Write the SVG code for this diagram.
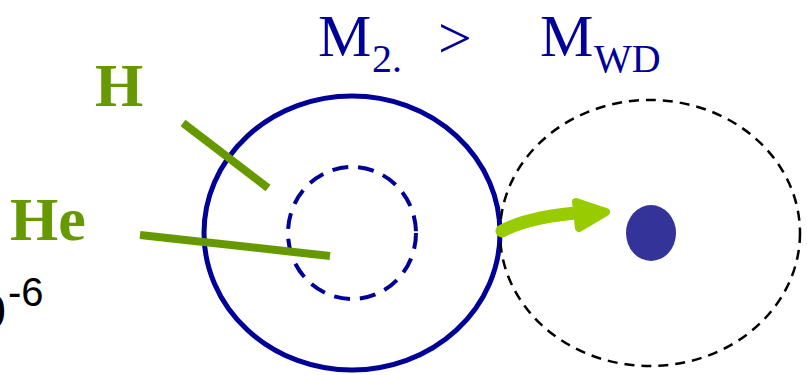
<svg xmlns="http://www.w3.org/2000/svg" width="807" height="375" viewBox="0 0 807 375">
<style>
.lbl{font-family:"Liberation Serif","Times New Roman",serif;fill:#000099}
.el{font-family:"Liberation Serif","Times New Roman",serif;font-weight:bold;fill:#669900;font-size:62px}
.gl{stroke:#669900;stroke-width:8;fill:none}
</style>
<rect width="807" height="375" fill="#fff"/>
<g id="title">
<text class="lbl" x="318" y="56" font-size="60">M</text>
<text class="lbl" x="372" y="72" font-size="40">2.</text>
<text class="lbl" x="438" y="58" font-size="60">&gt;</text>
<text class="lbl" x="540" y="56" font-size="60">M</text>
<text class="lbl" x="594" y="72" font-size="40">WD</text>
</g>
<g id="star">
<ellipse cx="352" cy="233" rx="148" ry="137" fill="none" stroke="#000099" stroke-width="5"/>
<ellipse cx="352" cy="233" rx="64" ry="66" fill="none" stroke="#000099" stroke-width="4" stroke-dasharray="16,10"/>
</g>
<g id="wd-orbit">
<ellipse cx="650" cy="233" rx="150" ry="133" fill="none" stroke="#000" stroke-width="2.5" stroke-dasharray="10,7"/>
</g>
<g id="wd">
<ellipse cx="651" cy="233" rx="25" ry="28" fill="#333399"/>
</g>
<g id="label-H"><text class="el" x="95" y="106">H</text></g>
<g id="label-He"><text class="el" x="10" y="240">He</text></g>
<g id="exp">
<text x="6" y="328" font-family="'Liberation Sans',Arial,sans-serif" font-size="48" text-anchor="end" fill="#000">0</text>
<text x="8" y="306" font-family="'Liberation Sans',Arial,sans-serif" font-size="40" fill="#000">-6</text>
</g>
<g id="connectors">
<line class="gl" x1="183" y1="123" x2="268" y2="188"/>
<line class="gl" x1="140" y1="235" x2="330" y2="256"/>
<path d="M502,231 Q530,216 588,212" fill="none" stroke="#99cc00" stroke-width="13" stroke-linecap="round"/>
<polygon points="576,202 606,212 579,228" fill="#99cc00" stroke="#99cc00" stroke-width="8" stroke-linejoin="round"/>
</g>
</svg>
